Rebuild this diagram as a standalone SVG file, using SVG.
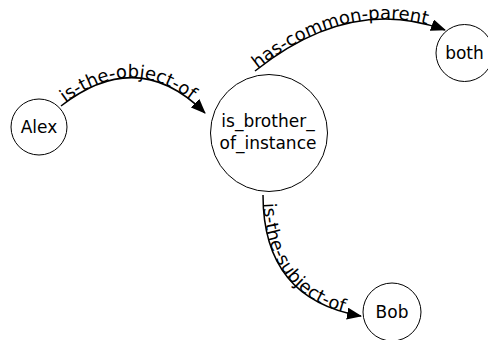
<svg xmlns="http://www.w3.org/2000/svg" xmlns:xlink="http://www.w3.org/1999/xlink" width="488" height="340" viewBox="0 0 488 340">
  <style>
    .node circle { fill: #ffffff; stroke: #000000; stroke-width: 1; }
    .node text { font-family: "DejaVu Sans", sans-serif; font-size: 17px; fill: #000000; text-anchor: middle; }
    .edge { fill: none; stroke: #000000; stroke-width: 1.5; marker-end: url(#arrow); }
    .label { font-family: "DejaVu Sans", sans-serif; font-size: 18px; fill: #000000; }
  </style>
  <defs>
    <marker id="arrow" markerUnits="userSpaceOnUse" markerWidth="16" markerHeight="12" refX="14" refY="6" orient="auto">
      <path d="M0,0 L15,6 L0,12 z" fill="#000000"/>
    </marker>
    <path id="p1" d="M61 106 Q138 46 205 113"/>
    <path id="p2" d="M255 71 Q350 -5 445 30"/>
    <path id="p3" d="M263 195 Q263 299 361 316"/>
  </defs>
  <g id="connectors">
    <g id="edge-object">
      <use xlink:href="#p1" href="#p1" class="edge"/>
      <text class="label"><textPath xlink:href="#p1" href="#p1" startOffset="5">is-the-object-of</textPath></text>
    </g>
    <g id="edge-parent">
      <use xlink:href="#p2" href="#p2" class="edge"/>
      <text class="label"><textPath xlink:href="#p2" href="#p2" startOffset="3">has-common-parent</textPath></text>
    </g>
    <g id="edge-subject">
      <use xlink:href="#p3" href="#p3" class="edge"/>
      <text class="label"><textPath xlink:href="#p3" href="#p3" startOffset="8">is-the-subject-of</textPath></text>
    </g>
  </g>
  <g id="node-alex" class="node">
    <circle cx="39" cy="127" r="28"/>
    <text x="39" y="133">Alex</text>
  </g>
  <g id="node-instance" class="node">
    <circle cx="269" cy="133" r="58.5"/>
    <text x="268" y="127">is_brother_</text>
    <text x="268" y="149">of_instance</text>
  </g>
  <g id="node-both" class="node">
    <circle cx="464.5" cy="53" r="28.5"/>
    <text x="464.5" y="59">both</text>
  </g>
  <g id="node-bob" class="node">
    <circle cx="392" cy="312" r="29"/>
    <text x="392" y="318">Bob</text>
  </g>
</svg>
